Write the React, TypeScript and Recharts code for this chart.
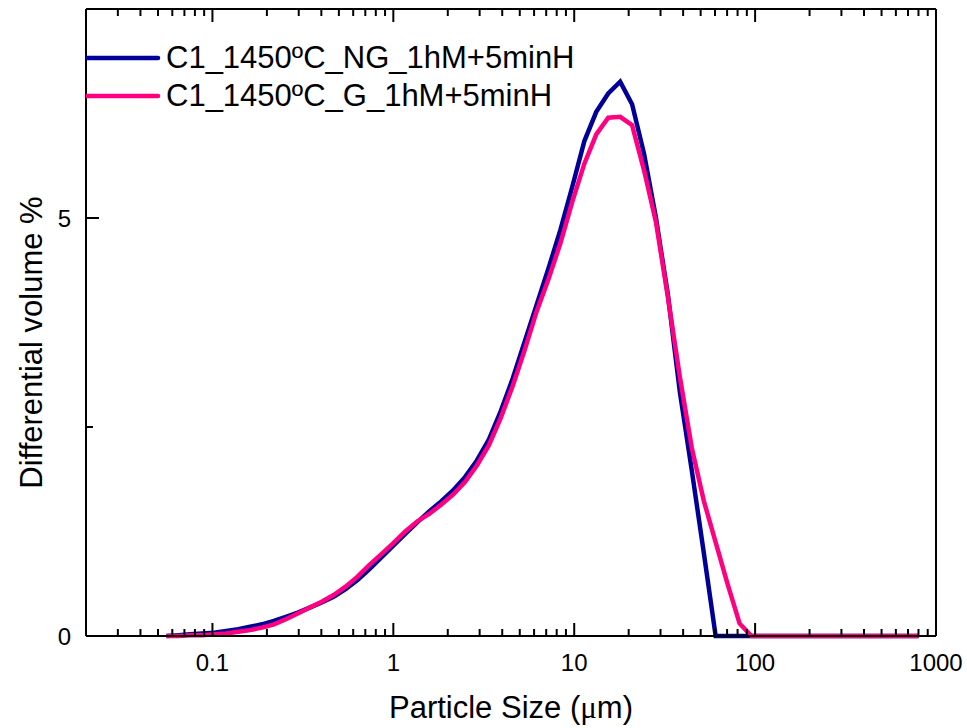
import { Label, Legend, Line, LineChart, XAxis, YAxis } from "recharts";

// Particle size grid (µm), log-spaced channels
const SIZE_UM = [
  0.0557, 0.0649, 0.0755, 0.0879, 0.1023, 0.1191, 0.1387, 0.1614, 0.1879, 0.2188,
  0.2547, 0.2965, 0.3451, 0.4018, 0.4677, 0.5445, 0.6339, 0.7379, 0.859, 1.0,
  1.164, 1.355, 1.578, 1.837, 2.138, 2.489, 2.897, 3.373, 3.926, 4.571,
  5.321, 6.194, 7.211, 8.395, 9.772, 11.38, 13.24, 15.42, 17.95, 20.89,
  24.32, 28.31, 32.96, 38.37, 44.67, 52.0, 60.53, 70.47, 82.04, 95.5,
  111.2, 129.4, 150.7, 175.4, 204.2, 237.7, 276.7, 322.1, 375.0, 436.5,
  508.1, 591.5, 688.6, 801.8,
];

// Differential volume % – not ground
const NG = [
  0.0, 0.01, 0.02, 0.03, 0.04, 0.06, 0.08, 0.11, 0.14, 0.18,
  0.23, 0.28, 0.34, 0.4, 0.47, 0.56, 0.67, 0.8, 0.94, 1.08,
  1.22, 1.36, 1.49, 1.61, 1.74, 1.9, 2.1, 2.35, 2.69, 3.08,
  3.52, 3.96, 4.4, 4.86, 5.38, 5.92, 6.27, 6.49, 6.63, 6.36,
  5.77, 5.0, 4.08, 2.92, 1.98, 1.0, 0, 0, 0, 0,
  0, 0, 0, 0, 0, 0, 0, 0, 0, 0,
  0, 0, 0, 0,
];

// Differential volume % – ground
const G = [
  0.0, 0.0, 0.01, 0.01, 0.02, 0.03, 0.05, 0.07, 0.1, 0.14,
  0.2, 0.27, 0.34, 0.41, 0.49, 0.59, 0.71, 0.85, 0.98, 1.11,
  1.25, 1.37, 1.46, 1.57, 1.69, 1.84, 2.04, 2.28, 2.61, 2.99,
  3.42, 3.88, 4.27, 4.7, 5.2, 5.65, 6.0, 6.2, 6.21, 6.11,
  5.57, 4.95, 4.05, 3.1, 2.25, 1.62, 1.12, 0.62, 0.15, 0,
  0, 0, 0, 0, 0, 0, 0, 0, 0, 0,
  0, 0, 0, 0,
];

const SERIES = [
  { key: "ng", name: "C1_1450ºC_NG_1hM+5minH", color: "#000099" },
  { key: "g", name: "C1_1450ºC_G_1hM+5minH", color: "#FF0080" },
];

const X_MAJOR = [0.1, 1, 10, 100, 1000];
const X_TICKS = [
  0.03, 0.04, 0.05, 0.06, 0.07, 0.08, 0.09, 0.1,
  0.2, 0.3, 0.4, 0.5, 0.6, 0.7, 0.8, 0.9, 1,
  2, 3, 4, 5, 6, 7, 8, 9, 10,
  20, 30, 40, 50, 60, 70, 80, 90, 100,
  200, 300, 400, 500, 600, 700, 800, 900, 1000,
];
const Y_MAJOR = [0, 5];
const Y_TICKS = [0, 2.5, 5];

const data = SIZE_UM.map((size, i) => ({ size, ng: NG[i], g: G[i] }));

const FONT = "Arial, 'Liberation Sans', sans-serif";
const MAJOR_LEN = 13;
const MINOR_LEN = 7;

type TickProps = { x: number; y: number; payload: { value: number } };

function XTick(props: unknown) {
  const { x, y, payload } = props as TickProps;
  const major = X_MAJOR.includes(payload.value);
  return (
    <g>
      <line x1={x} y1={y} x2={x} y2={y - (major ? MAJOR_LEN : MINOR_LEN)} stroke="#000" strokeWidth={2} />
      {major && (
        <text x={x} y={y + 35} textAnchor="middle" fontSize={24} fontFamily={FONT} fill="#000">
          {payload.value}
        </text>
      )}
    </g>
  );
}

function XTopTick(props: unknown) {
  const { x, y, payload } = props as TickProps;
  const major = X_MAJOR.includes(payload.value);
  return <line x1={x} y1={y} x2={x} y2={y + (major ? MAJOR_LEN : MINOR_LEN)} stroke="#000" strokeWidth={2} />;
}

function YTick(props: unknown) {
  const { x, y, payload } = props as TickProps;
  const major = Y_MAJOR.includes(payload.value);
  return (
    <g>
      <line x1={x} y1={y} x2={x + (major ? MAJOR_LEN : MINOR_LEN)} y2={y} stroke="#000" strokeWidth={2} />
      {major && (
        <text x={x - 15} y={y} textAnchor="end" dominantBaseline="central" fontSize={24} fontFamily={FONT} fill="#000">
          {payload.value}
        </text>
      )}
    </g>
  );
}

function YRightTick(props: unknown) {
  const { x, y, payload } = props as TickProps;
  const major = Y_MAJOR.includes(payload.value);
  return <line x1={x} y1={y} x2={x - (major ? MAJOR_LEN : MINOR_LEN)} y2={y} stroke="#000" strokeWidth={2} />;
}

function LegendBox() {
  return (
    <div style={{ fontFamily: FONT, fontSize: 31, color: "#000", lineHeight: "38px" }}>
      {SERIES.map((s) => (
        <div key={s.key} style={{ display: "flex", alignItems: "center", height: 38 }}>
          <svg width={80} height={38} style={{ display: "block" }}>
            <line x1={0} y1={19} x2={72} y2={19} stroke={s.color} strokeWidth={4.5} strokeLinecap="round" />
          </svg>
          <span style={{ whiteSpace: "nowrap" }}>{s.name}</span>
        </div>
      ))}
    </div>
  );
}

const axisLine = { stroke: "#000", strokeWidth: 2 };

export default function App() {
  return (
    <div style={{ position: "absolute", left: 0, top: 0, background: "#fff" }}>
      <LineChart width={967} height={728} data={data} margin={{ top: 8, right: 30, bottom: 91, left: 85 }}>
        <XAxis
          type="number"
          dataKey="size"
          scale="log"
          domain={[0.02, 1000]}
          allowDataOverflow
          ticks={X_TICKS}
          interval={0}
          height={1}
          tickSize={0}
          tickMargin={0}
          tickLine={false}
          axisLine={axisLine}
          tick={<XTick />}
        >
          <Label
            content={(p: any) => {
              const vb = p.viewBox;
              return (
                <text x={vb.x + vb.width / 2} y={vb.y + 82} textAnchor="middle" fontSize={31} fontFamily={FONT} fill="#000">
                  Particle Size (<tspan fontFamily="'Liberation Serif', 'DejaVu Serif', serif">μ</tspan>m)
                </text>
              );
            }}
          />
        </XAxis>
        <XAxis
          xAxisId="top"
          orientation="top"
          type="number"
          dataKey="size"
          scale="log"
          domain={[0.02, 1000]}
          allowDataOverflow
          ticks={X_TICKS}
          interval={0}
          height={1}
          tickSize={0}
          tickMargin={0}
          tickLine={false}
          axisLine={axisLine}
          tick={<XTopTick />}
        />
        <YAxis
          type="number"
          domain={[0, 7.5]}
          ticks={Y_TICKS}
          interval={0}
          width={1}
          tickSize={0}
          tickMargin={0}
          tickLine={false}
          axisLine={axisLine}
          tick={<YTick />}
        >
          <Label
            content={(p: any) => {
              const vb = p.viewBox;
              const cx = 31;
              const cy = vb.y + vb.height / 2 + 20;
              return (
                <text
                  x={cx}
                  y={cy}
                  transform={`rotate(-90 ${cx} ${cy})`}
                  textAnchor="middle"
                  dominantBaseline="central"
                  fontSize={31}
                  fontFamily={FONT}
                  fill="#000"
                >
                  Differential volume %
                </text>
              );
            }}
          />
        </YAxis>
        <YAxis
          yAxisId="right"
          orientation="right"
          type="number"
          domain={[0, 7.5]}
          ticks={Y_TICKS}
          interval={0}
          width={1}
          tickSize={0}
          tickMargin={0}
          tickLine={false}
          axisLine={axisLine}
          tick={<YRightTick />}
        />
        <Legend
          layout="vertical"
          verticalAlign="middle"
          align="center"
          wrapperStyle={{ top: 39, left: 86, width: 600 }}
          content={<LegendBox />}
        />
        {SERIES.map((s) => (
          <Line
            key={s.key}
            type="linear"
            dataKey={s.key}
            name={s.name}
            stroke={s.color}
            strokeWidth={4.5}
            dot={false}
            isAnimationActive={false}
          />
        ))}
      </LineChart>
    </div>
  );
}
